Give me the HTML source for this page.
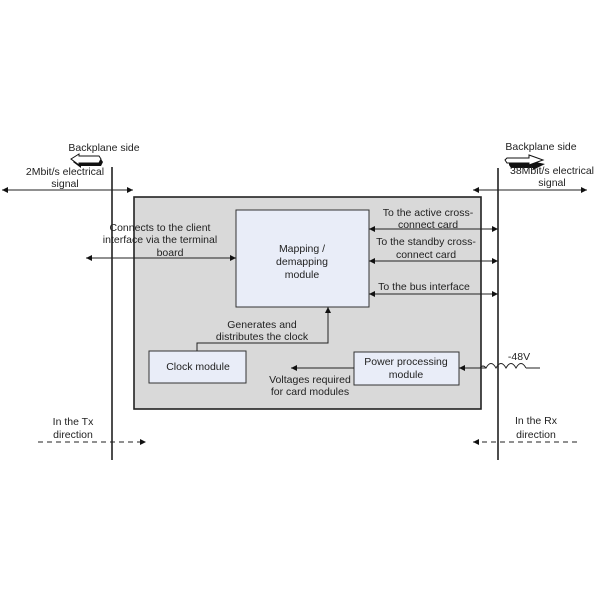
<!DOCTYPE html>
<html><head><meta charset="utf-8"><style>
html,body{margin:0;padding:0;background:#fff;}
svg{display:block;}
text{font-family:"Liberation Sans",Arial,sans-serif;font-size:10.5px;fill:#222;}
</style></head><body>
<svg width="600" height="600" viewBox="0 0 600 600" xmlns="http://www.w3.org/2000/svg">
<defs>
<marker id="ah" viewBox="0 0 10 10" refX="10" refY="5" markerWidth="8" markerHeight="6" orient="auto-start-reverse" markerUnits="userSpaceOnUse">
<path d="M0,0 L10,5 L0,10 z" fill="#111"/>
</marker>
</defs>
<!-- gray card box -->
<rect x="134" y="197" width="347" height="212" fill="#d9d9d9" stroke="#222" stroke-width="1.6"/>
<!-- vertical backplane lines -->
<line x1="112" y1="167" x2="112" y2="460" stroke="#222" stroke-width="1.6"/>
<line x1="498" y1="168" x2="498" y2="460" stroke="#222" stroke-width="1.6"/>
<!-- mapping box -->
<rect x="236" y="210" width="133" height="97" fill="#e9edf8" stroke="#333" stroke-width="1"/>
<text x="302" y="252" text-anchor="middle">Mapping /</text>
<text x="302" y="265" text-anchor="middle">demapping</text>
<text x="302" y="278" text-anchor="middle">module</text>
<!-- clock -->
<rect x="149" y="351" width="97" height="32" fill="#e9edf8" stroke="#333" stroke-width="1"/>
<text x="198" y="370" text-anchor="middle">Clock module</text>
<!-- power -->
<rect x="354" y="352" width="105" height="33" fill="#e9edf8" stroke="#333" stroke-width="1"/>
<text x="406" y="365" text-anchor="middle">Power processing</text>
<text x="406" y="378" text-anchor="middle">module</text>
<!-- top arrows -->
<line x1="2" y1="190" x2="133" y2="190" stroke="#222" stroke-width="1" marker-start="url(#ah)" marker-end="url(#ah)"/>
<line x1="473" y1="190" x2="587" y2="190" stroke="#222" stroke-width="1" marker-start="url(#ah)" marker-end="url(#ah)"/>
<!-- client arrow -->
<line x1="86" y1="258" x2="236" y2="258" stroke="#222" stroke-width="1" marker-start="url(#ah)" marker-end="url(#ah)"/>
<!-- right arrows -->
<line x1="369" y1="229" x2="498" y2="229" stroke="#222" stroke-width="1" marker-start="url(#ah)" marker-end="url(#ah)"/>
<line x1="369" y1="261" x2="498" y2="261" stroke="#222" stroke-width="1" marker-start="url(#ah)" marker-end="url(#ah)"/>
<line x1="369" y1="294" x2="498" y2="294" stroke="#222" stroke-width="1" marker-start="url(#ah)" marker-end="url(#ah)"/>
<!-- clock line -->
<polyline points="197,351 197,343 328,343 328,307" fill="none" stroke="#222" stroke-width="1" marker-end="url(#ah)"/>
<!-- voltage line -->
<line x1="354" y1="368" x2="291" y2="368" stroke="#222" stroke-width="1" marker-end="url(#ah)"/>
<!-- power input with coil -->
<path d="M540,368 L526,368 M526,368 q-5,-9 -10,0 q-5,-9 -10,0 q-5,-9 -10,0 q-5,-9 -10,0 q-3,-4 -6,0" fill="none" stroke="#222" stroke-width="1"/>
<line x1="486" y1="368" x2="459" y2="368" stroke="#222" stroke-width="1" marker-end="url(#ah)"/>
<text x="519" y="360" text-anchor="middle">-48V</text>
<!-- dashed Tx/Rx -->
<line x1="38" y1="442" x2="146" y2="442" stroke="#222" stroke-width="1" stroke-dasharray="5,4" marker-end="url(#ah)"/>
<line x1="577" y1="442" x2="473" y2="442" stroke="#222" stroke-width="1" stroke-dasharray="5,4" marker-end="url(#ah)"/>
<text x="73" y="425" text-anchor="middle">In the Tx</text>
<text x="73" y="438" text-anchor="middle">direction</text>
<text x="536" y="424" text-anchor="middle">In the Rx</text>
<text x="536" y="438" text-anchor="middle">direction</text>
<!-- backplane block arrows -->
<polygon points="73,162 81,157 81,159 101,159 103,162 101,166 81,166 81,168" fill="#111"/>
<polygon points="71,159 79,154 79,156 99,156 101,159 99,163 79,163 79,165" fill="#fff" stroke="#111" stroke-width="1"/>
<polygon points="509,163 531,163 531,161 545,164 533,170 533,168 511,168 509,165" fill="#111"/>
<polygon points="507,158 529,158 529,155 543,160 529,165 529,163 507,163 505,160" fill="#fff" stroke="#111" stroke-width="1"/>
<text x="104" y="151" text-anchor="middle">Backplane side</text>
<text x="541" y="150" text-anchor="middle">Backplane side</text>
<text x="65" y="175" text-anchor="middle">2Mbit/s electrical</text>
<text x="65" y="187" text-anchor="middle">signal</text>
<text x="552" y="174" text-anchor="middle">38Mbit/s electrical</text>
<text x="552" y="186" text-anchor="middle">signal</text>
<!-- labels -->
<text x="160" y="231" text-anchor="middle">Connects to the client</text>
<text x="160" y="243" text-anchor="middle">interface via the terminal</text>
<text x="170" y="256" text-anchor="middle">board</text>
<text x="428" y="216" text-anchor="middle">To the active cross-</text>
<text x="428" y="228" text-anchor="middle">connect card</text>
<text x="426" y="245" text-anchor="middle">To the standby cross-</text>
<text x="426" y="258" text-anchor="middle">connect card</text>
<text x="424" y="290" text-anchor="middle">To the bus interface</text>
<text x="262" y="328" text-anchor="middle">Generates and</text>
<text x="262" y="340" text-anchor="middle">distributes the clock</text>
<text x="310" y="383" text-anchor="middle">Voltages required</text>
<text x="310" y="395" text-anchor="middle">for card modules</text>
</svg>
</body></html>
